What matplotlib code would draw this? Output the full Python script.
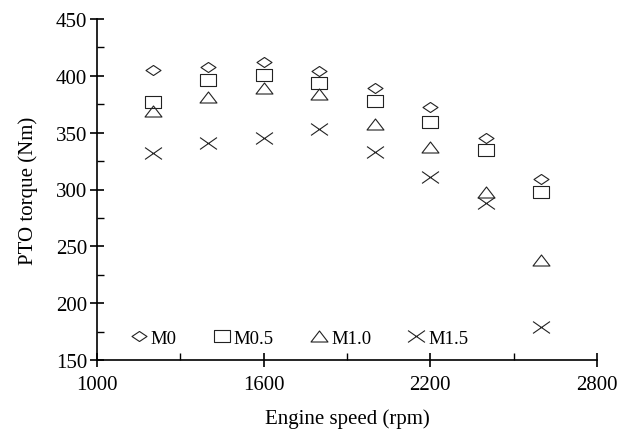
import matplotlib
matplotlib.use("Agg")
import matplotlib.pyplot as plt
from matplotlib.path import Path
from matplotlib.ticker import MultipleLocator, FixedLocator

plt.rcParams['font.family'] = ['Liberation Serif', 'DejaVu Serif']

speed = [1200, 1400, 1600, 1800, 2000, 2200, 2400, 2600]
m0 = [405, 408, 412, 404, 389, 373, 345, 309]
m05 = [377, 396, 401, 394, 378, 359, 335, 298]
m10 = [369, 381, 389, 384, 358, 337, 298, 238]
m15 = [332, 341, 345, 353, 333, 311, 288, 179]
labels = ["M0", "M0.5", "M1.0", "M1.5"]
x_major = [1000, 1600, 2200, 2800]
x_minor = [1300, 1900, 2500]

# horizontally stretched hollow markers
diamond = Path([(-1, 0), (0, 0.67), (1, 0), (0, -0.67), (-1, 0)],
               [Path.MOVETO, Path.LINETO, Path.LINETO, Path.LINETO, Path.CLOSEPOLY])
square = Path([(-1, -0.7), (1, -0.7), (1, 0.7), (-1, 0.7), (-1, -0.7)],
              [Path.MOVETO, Path.LINETO, Path.LINETO, Path.LINETO, Path.CLOSEPOLY])
triangle = Path([(-1, -0.65), (0, 0.65), (1, -0.65), (-1, -0.65)],
                [Path.MOVETO, Path.LINETO, Path.LINETO, Path.CLOSEPOLY])
cross = Path([(-1, -0.7), (1, 0.7), (-1, 0.7), (1, -0.7)],
             [Path.MOVETO, Path.LINETO, Path.MOVETO, Path.LINETO])

fig = plt.figure(figsize=(6.3, 4.35), dpi=100)
ax = fig.add_axes([97/630, 1-361/435, 500/630, 341/435])

series = [m0, m05, m10, m15]
markers = [diamond, square, triangle, cross]
sizes = [10.8, 12.2, 12.2, 12.2]
for vals, mk, ms, lab in zip(series, markers, sizes, labels):
    ax.plot(speed, vals, linestyle='none', marker=mk, markersize=ms,
            markerfacecolor='none', markeredgecolor='#222222',
            markeredgewidth=0.8, label=lab)

ax.set_xlim(1000, 2800)
ax.set_ylim(150, 450)
ax.xaxis.set_major_locator(FixedLocator(x_major))
ax.xaxis.set_minor_locator(FixedLocator(x_minor))
ax.yaxis.set_major_locator(MultipleLocator(50))
ax.yaxis.set_minor_locator(MultipleLocator(25))
ax.tick_params(which='major', direction='inout', length=10, width=1.2,
               labelsize=15, pad=2)
ax.tick_params(axis='x', which='major', pad=6)
ax.tick_params(which='minor', direction='in', length=5, width=1.0)
ax.spines['top'].set_visible(False)
ax.spines['right'].set_visible(False)
for s in ['left', 'bottom']:
    ax.spines[s].set_linewidth(1.2)

ax.set_xlabel("Engine speed (rpm)", fontsize=15, labelpad=10)
ax.set_ylabel("PTO torque (Nm)", fontsize=15, labelpad=13)

ax.legend(loc='center left', bbox_to_anchor=(0.068, 0.064), ncol=4,
          frameon=False, fontsize=13.5, handlelength=0.8, handletextpad=0.25,
          columnspacing=2.0, borderpad=0, borderaxespad=0)

fig.savefig("out.png", dpi=100)
